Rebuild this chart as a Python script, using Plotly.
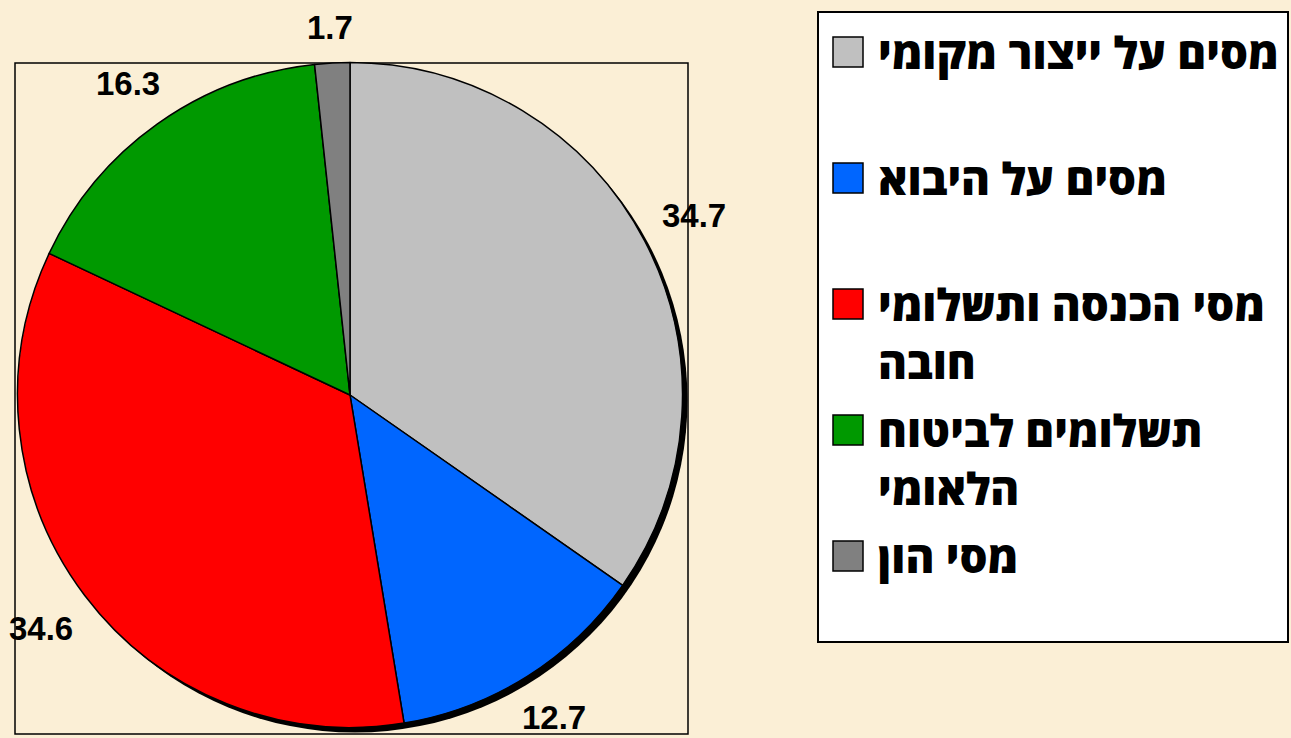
import math
import plotly.graph_objects as go

# Tax revenue composition (percent of total)
categories = [
    "מסים על ייצור מקומי",
    "מסים על היבוא",
    "מסי הכנסה ותשלומי חובה",
    "תשלומים לביטוח הלאומי",
    "מסי הון",
]
legend_lines = [
    ["מסים על ייצור מקומי"],
    ["מסים על היבוא"],
    ["מסי הכנסה ותשלומי", "חובה"],
    ["תשלומים לביטוח", "הלאומי"],
    ["מסי הון"],
]
values = [34.7, 12.7, 34.6, 16.3, 1.7]
colors = ["#C0C0C0", "#0066FF", "#FF0000", "#009900", "#808080"]

W, H = 1291, 738
CX, CY, R = 350, 395, 332.5          # pie centre / radius in pixels
NUM_FONT = "Liberation Sans, Arial, sans-serif"
HEB_FONT = "Open Sans, sans-serif"
NUM_SIZE = 33
HEB_SIZE = 44


def px(x):
    return x / W


def py(y):
    return (H - y) / H


fig = go.Figure(
    go.Pie(
        labels=categories,
        values=values,
        sort=False,
        direction="clockwise",
        rotation=0,
        marker=dict(colors=colors, line=dict(color="black", width=1.5)),
        textinfo="none",
        showlegend=False,
        domain=dict(x=[px(CX - R), px(CX + R)], y=[py(CY + R), py(CY - R)]),
    )
)

shapes = [
    # plot frame
    dict(type="rect", xref="paper", yref="paper", layer="below",
         x0=px(15), x1=px(688), y0=py(734), y1=py(63),
         line=dict(color="black", width=1.5), fillcolor="rgba(0,0,0,0)"),
    # drop shadow behind the pie
    dict(type="circle", xref="paper", yref="paper", layer="below",
         x0=px(CX - R + 5), x1=px(CX + R + 5), y0=py(CY + R + 5), y1=py(CY - R + 5),
         line=dict(width=0), fillcolor="black"),
    # legend box
    dict(type="rect", xref="paper", yref="paper", layer="below",
         x0=px(818), x1=px(1288), y0=py(642), y1=py(12),
         line=dict(color="black", width=2), fillcolor="white"),
]

annotations = []

# value labels outside the pie: the label box sits a fixed gap beyond the rim
total = sum(values)
cum = 0.0
for v in values:
    mid = (cum + v / 2) / total * 2 * math.pi
    cum += v
    text = f"{v:.1f}"
    half_w = 0.5 * NUM_SIZE * (0.556 * (len(text) - 1) + 0.278)
    half_h = 12
    r = R + 22 + abs(half_w * math.sin(mid)) + abs(half_h * math.cos(mid))
    x = CX + r * math.sin(mid)
    y = CY - r * math.cos(mid)
    annotations.append(dict(
        x=px(x), y=py(y), xref="paper", yref="paper", showarrow=False,
        text=text, xanchor="center", yanchor="middle",
        font=dict(family=NUM_FONT, size=NUM_SIZE, color="black", weight="bold"),
    ))

# legend entries
slot_top, slot_h, line_gap = 52, 126, 58
for i, (lines, c) in enumerate(zip(legend_lines, colors)):
    yc = slot_top + i * slot_h
    shapes.append(dict(
        type="rect", xref="paper", yref="paper",
        x0=px(833), x1=px(863), y0=py(yc + 15), y1=py(yc - 15),
        fillcolor=c, line=dict(color="black", width=1.5),
    ))
    for k, ln in enumerate(lines):
        annotations.append(dict(
            x=px(876), y=py(yc + k * line_gap), xref="paper", yref="paper",
            showarrow=False, text=ln, xanchor="left", yanchor="middle",
            align="left",
            font=dict(family=HEB_FONT, size=HEB_SIZE, color="black", weight=800),
        ))

fig.update_layout(
    width=W, height=H,
    margin=dict(l=0, r=0, t=0, b=0),
    paper_bgcolor="#FBEFD6",
    plot_bgcolor="#FBEFD6",
    shapes=shapes,
    annotations=annotations,
    showlegend=False,
)

fig.write_html("out.html")
